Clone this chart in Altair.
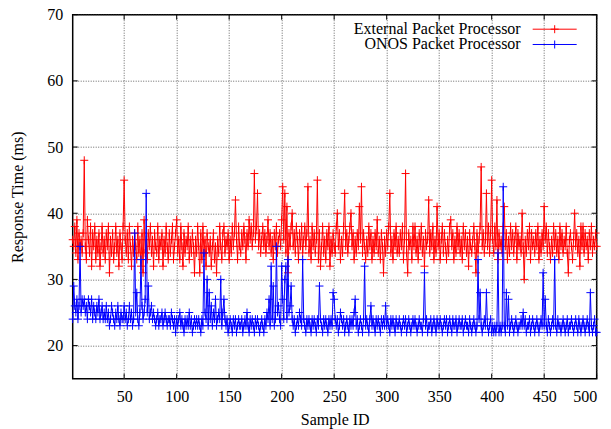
import altair as alt
import pandas as pd

SERIES = ["External Packet Processor", "ONOS Packet Processor"]
COLORS = ["#ff0000", "#0000ff"]

SAMPLES = list(range(1, 501))

EXTERNAL = [
    36, 35, 38, 34, 39, 33, 37, 35, 36, 34,
    37, 48, 35, 33, 39, 36, 34, 38, 32, 37,
    35, 38, 33, 36, 34, 37, 32, 35, 38, 34,
    36, 33, 37, 35, 38, 31, 36, 34, 37, 33,
    35, 38, 34, 36, 32, 37, 35, 33, 38, 45,
    36, 34, 37, 33, 38, 35, 32, 36, 34, 37,
    35, 33, 38, 34, 36, 32, 37, 31, 39, 34,
    36, 33, 37, 35, 38, 34, 36, 32, 37, 35,
    34, 38, 33, 36, 35, 37, 32, 36, 34, 38,
    35, 33, 37, 34, 36, 38, 33, 35, 37, 39,
    34, 36, 33, 38, 35, 32, 37, 34, 36, 35,
    38, 33, 36, 34, 37, 35, 31, 36, 34, 38,
    35, 31, 37, 33, 38, 34, 36, 32, 37, 35,
    34, 36, 32, 35, 37, 33, 35, 31, 36, 34,
    38, 35, 33, 37, 38, 34, 36, 35, 37, 33,
    36, 34, 38, 35, 37, 42, 36, 33, 38, 35,
    34, 37, 35, 38, 36, 33, 37, 35, 39, 36,
    38, 35, 37, 46, 36, 38, 43, 35, 37, 34,
    36, 38, 35, 37, 34, 36, 39, 35, 37, 34,
    36, 33, 37, 35, 38, 34, 36, 37, 35, 39,
    44, 36, 43, 34, 41, 31, 37, 35, 38, 40,
    35, 37, 34, 38, 36, 33, 37, 35, 38, 34,
    36, 38, 35, 37, 44, 34, 36, 33, 38, 35,
    37, 34, 36, 45, 33, 37, 32, 35, 38, 34,
    36, 33, 37, 35, 38, 32, 36, 34, 37, 35,
    34, 38, 40, 35, 37, 33, 36, 34, 38, 43,
    35, 37, 34, 36, 38, 40, 35, 37, 33, 36,
    34, 37, 35, 41, 36, 44, 34, 37, 35, 33,
    36, 34, 38, 35, 37, 33, 36, 34, 37, 35,
    39, 34, 36, 33, 37, 35, 31, 36, 34, 37,
    35, 38, 43, 34, 36, 33, 37, 35, 38, 34,
    36, 34, 37, 35, 38, 33, 36, 46, 34, 31,
    37, 35, 36, 33, 38, 35, 38, 34, 36, 33,
    37, 35, 38, 34, 36, 32, 37, 35, 36, 42,
    34, 37, 35, 38, 33, 36, 34, 41, 35, 37,
    33, 36, 38, 34, 37, 35, 33, 36, 34, 38,
    39, 35, 37, 33, 36, 34, 38, 35, 37, 34,
    36, 33, 38, 35, 37, 34, 36, 32, 37, 35,
    34, 36, 38, 35, 31, 37, 34, 36, 38, 47,
    35, 37, 34, 36, 43, 35, 38, 34, 37, 45,
    36, 34, 38, 35, 42, 33, 37, 35, 36, 34,
    38, 41, 35, 37, 33, 36, 34, 38, 35, 37,
    34, 36, 38, 33, 37, 35, 36, 34, 40, 35,
    30, 36, 34, 37, 35, 38, 33, 37, 35, 36,
    34, 37, 35, 38, 33, 36, 34, 37, 35, 41,
    36, 38, 34, 37, 35, 33, 36, 34, 38, 35,
    37, 34, 36, 33, 38, 35, 37, 34, 36, 35,
    38, 34, 31, 36, 37, 35, 33, 36, 40, 35,
    37, 34, 36, 32, 38, 35, 38, 34, 37, 35,
    36, 33, 37, 35, 38, 34, 36, 35, 37, 35,
]

ONOS = [
    24, 29, 26, 25, 27, 24, 26, 35, 25, 27,
    26, 27, 25, 26, 24, 27, 26, 25, 27, 24,
    26, 25, 24, 26, 25, 27, 24, 25, 26, 24,
    25, 24, 26, 24, 25, 23, 24, 26, 25, 24,
    23, 25, 24, 26, 24, 23, 25, 24, 24, 26,
    24, 25, 23, 24, 26, 24, 25, 23, 24, 37,
    25, 28, 24, 23, 25, 33, 26, 24, 25, 27,
    43, 25, 29, 24, 25, 26, 24, 25, 24, 23,
    24, 25, 23, 24, 24, 25, 23, 24, 25, 24,
    23, 24, 24, 23, 25, 24, 23, 24, 22, 24,
    23, 24, 25, 23, 24, 23, 22, 24, 23, 24,
    23, 25, 23, 24, 22, 23, 24, 23, 24, 23,
    24, 23, 22, 24, 23, 34, 25, 24, 30, 23,
    28, 24, 26, 23, 25, 24, 27, 23, 24, 25,
    24, 30, 23, 25, 27, 24, 23, 24, 22, 23,
    24, 23, 22, 24, 23, 24, 22, 23, 24, 23,
    23, 24, 22, 23, 24, 23, 25, 23, 22, 24,
    23, 24, 23, 22, 24, 23, 24, 23, 22, 23,
    24, 23, 22, 24, 23, 25, 24, 27, 23, 32,
    24, 29, 23, 24, 35, 25, 26, 24, 23, 32,
    27, 24, 30, 32, 24, 33, 25, 26, 29, 24,
    23, 24, 22, 23, 24, 23, 25, 24, 23, 33,
    24, 23, 22, 24, 23, 24, 23, 22, 24, 23,
    24, 23, 22, 24, 23, 29, 24, 23, 22, 24,
    23, 24, 23, 22, 24, 23, 24, 23, 28, 27,
    24, 23, 24, 22, 23, 25, 24, 23, 24, 22,
    23, 24, 23, 22, 24, 23, 24, 23, 25, 27,
    23, 24, 22, 23, 24, 23, 22, 24, 32, 23,
    24, 23, 22, 24, 26, 23, 24, 23, 22, 24,
    23, 24, 23, 22, 24, 23, 24, 23, 26, 23,
    24, 23, 22, 24, 23, 24, 23, 22, 24, 23,
    23, 24, 23, 22, 23, 24, 23, 24, 22, 23,
    24, 23, 22, 23, 24, 23, 24, 23, 22, 23,
    24, 23, 23, 22, 24, 31, 23, 24, 22, 23,
    23, 24, 22, 23, 24, 23, 22, 24, 23, 23,
    24, 23, 22, 23, 24, 23, 24, 22, 23, 24,
    23, 22, 24, 23, 23, 24, 22, 23, 24, 23,
    23, 24, 22, 23, 24, 23, 23, 22, 24, 23,
    22, 23, 24, 23, 22, 23, 33, 24, 28, 23,
    22, 23, 24, 23, 28, 23, 22, 23, 24, 22,
    23, 22, 23, 22, 23, 34, 22, 23, 22, 23,
    44, 23, 22, 28, 23, 27, 22, 23, 24, 23,
    22, 23, 24, 23, 22, 23, 23, 24, 23, 25,
    23, 24, 22, 23, 23, 24, 22, 23, 24, 23,
    22, 23, 24, 23, 22, 23, 24, 23, 31, 23,
    27, 23, 22, 24, 23, 22, 23, 24, 23, 33,
    23, 22, 24, 23, 23, 22, 23, 24, 23, 22,
    23, 24, 22, 23, 23, 24, 23, 22, 23, 24,
    23, 22, 24, 23, 22, 23, 24, 23, 22, 23,
    24, 23, 22, 28, 23, 22, 23, 24, 22, 22,
]

X_TICKS = [50, 100, 150, 200, 250, 300, 350, 400, 450, 500]
Y_TICKS = [20, 30, 40, 50, 60, 70]
X_DOMAIN = [1, 500]
Y_DOMAIN = [15, 70]

FONT = "Liberation Serif"
W, H = 524, 364
CROSS = "M-1,0L1,0M0,-1L0,1"

df = pd.DataFrame({"sample": SAMPLES, "external": EXTERNAL, "onos": ONOS})

xscale = alt.Scale(domain=X_DOMAIN, nice=False, zero=False)
yscale = alt.Scale(domain=Y_DOMAIN, nice=False, zero=False)

xaxis = alt.Axis(values=X_TICKS, title="Sample ID", grid=True, titleY=41, titleBaseline="middle")
yaxis = alt.Axis(values=Y_TICKS, title="Response Time (ms)", grid=True, titleX=-55,
                 titleY=H / 2, titleAngle=-90, titleBaseline="middle")


def xenc(field):
    return alt.X(f"{field}:Q", scale=xscale, axis=xaxis)


def yenc(field):
    return alt.Y(f"{field}:Q", scale=yscale, axis=yaxis)


base = alt.Chart(df)

layers = []
for field, color in [("external", COLORS[0]), ("onos", COLORS[1])]:
    layers.append(base.mark_line(color=color, strokeWidth=1).encode(x=xenc("sample"), y=yenc(field)))
    layers.append(base.mark_point(shape=CROSS, filled=False, size=64, strokeWidth=1,
                                  color=color, opacity=1).encode(x=xenc("sample"), y=yenc(field)))

# inward border ticks (gnuplot style)
xt = alt.Chart(pd.DataFrame({"sample": X_TICKS}))
yt = alt.Chart(pd.DataFrame({"val": Y_TICKS}))
layers.append(xt.mark_rule(color="black", strokeWidth=1).encode(x=xenc("sample"), y=alt.value(H), y2=alt.value(H - 5)))
layers.append(xt.mark_rule(color="black", strokeWidth=1).encode(x=xenc("sample"), y=alt.value(0), y2=alt.value(5)))
layers.append(yt.mark_rule(color="black", strokeWidth=1).encode(y=yenc("val"), x=alt.value(0), x2=alt.value(5)))
layers.append(yt.mark_rule(color="black", strokeWidth=1).encode(y=yenc("val"), x=alt.value(W), x2=alt.value(W - 5)))

# legend (top right, gnuplot style)
LEG_TEXT_X = 448
LEG_LINE_X1, LEG_LINE_X2 = 460, 504
LEG_MARK_X = 482
LEG_Y = [14.5, 29.8]
for i, name in enumerate(SERIES):
    ld = alt.Chart(pd.DataFrame({"label": [name]}))
    layers.append(ld.mark_text(align="right", baseline="middle", font=FONT, fontSize=16, color="black").encode(
        text="label:N", x=alt.value(LEG_TEXT_X), y=alt.value(LEG_Y[i])))
    layers.append(ld.mark_rule(color=COLORS[i], strokeWidth=1).encode(
        x=alt.value(LEG_LINE_X1), x2=alt.value(LEG_LINE_X2), y=alt.value(LEG_Y[i])))
    layers.append(ld.mark_point(shape=CROSS, filled=False, size=64, strokeWidth=1, color=COLORS[i], opacity=1).encode(
        x=alt.value(LEG_MARK_X), y=alt.value(LEG_Y[i])))

chart = alt.layer(*layers).properties(
    width=W, height=H,
    autosize=alt.AutoSizeParams(type="none"),
    padding={"left": 64.7, "top": 6.7, "right": 6, "bottom": 50},
).configure_axis(
    labelFont=FONT, labelFontSize=16, labelColor="black",
    titleFont=FONT, titleFontSize=16, titleFontWeight="normal", titleColor="black",
    gridColor="#666666", gridDash=[1, 1.5], gridWidth=1, gridOpacity=1,
    domain=False, ticks=False, tickSize=0, labelPadding=10,
).configure_view(stroke="black", strokeWidth=1.5)

chart.save("out.html", embed_options={"renderer": "svg", "actions": False})
